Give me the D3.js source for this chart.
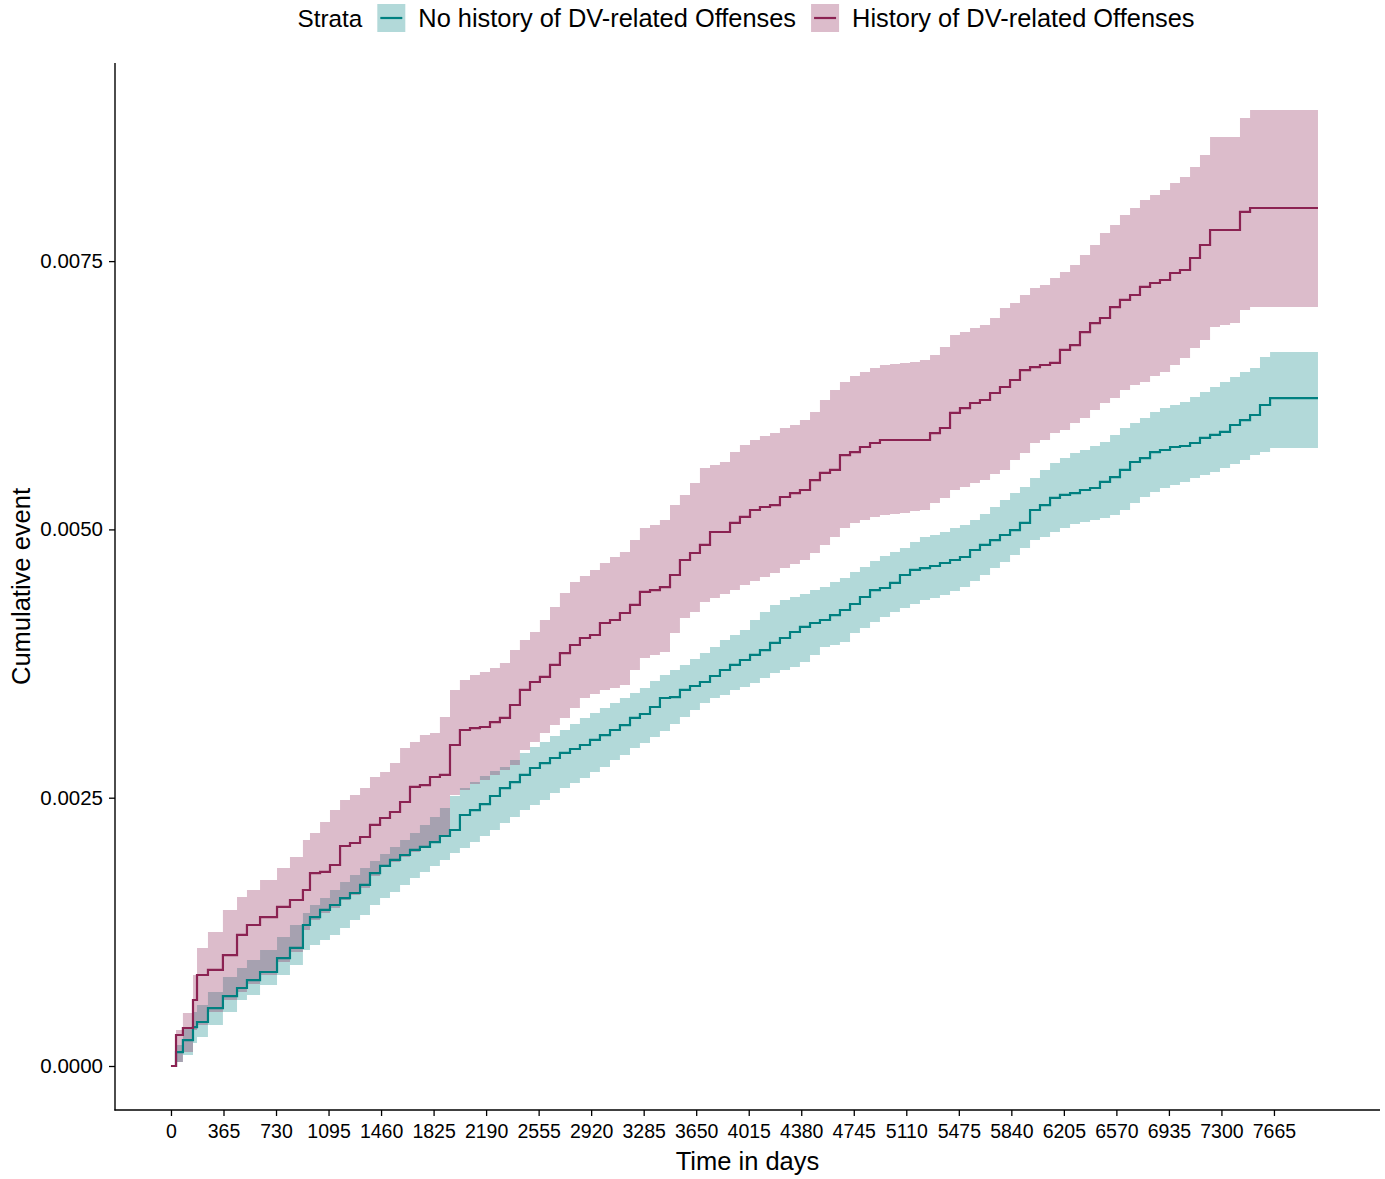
<!DOCTYPE html>
<html>
<head>
<meta charset="utf-8">
<script src="https://cdn.jsdelivr.net/npm/d3@7"></script>
<style>
  body { margin: 0; background: #fff; }
  svg text { font-family: "Liberation Sans", Arial, sans-serif; fill: #000; }
</style>
</head>
<body>
<svg id="chart"></svg>
<script>
// time points (days) shared by both strata
const days = [0, 35, 83, 153, 181, 257, 361, 459, 528, 619, 737, 827, 917,
  966, 1036, 1105, 1175, 1244, 1314, 1383, 1453, 1522, 1592,
  1661, 1730, 1800, 1869, 1939, 2008, 2078, 2147, 2217, 2286,
  2356, 2425, 2495, 2564, 2634, 2703, 2773, 2842, 2912, 2981,
  3051, 3120, 3190, 3259, 3329, 3398, 3468, 3537, 3607, 3676,
  3746, 3815, 3885, 3954, 4024, 4093, 4163, 4232, 4302, 4371,
  4441, 4510, 4580, 4649, 4719, 4788, 4858, 4927, 4997, 5066,
  5136, 5205, 5275, 5344, 5414, 5483, 5553, 5622, 5692, 5761,
  5831, 5900, 5970, 6039, 6109, 6178, 6248, 6317, 6387, 6456,
  6526, 6595, 6665, 6734, 6804, 6873, 6943, 7012, 7082, 7151,
  7221, 7290, 7360, 7429, 7499, 7568, 7638, 7707, 7777,
  7971];

// cumulative event, in units of 1e-4
const noHistEst = [0, 1.30, 2.42, 3.63, 4.10, 5.40, 6.52, 7.27, 8.01, 8.76, 10.06, 11.00, 13.14,
  13.88, 14.54, 15.00, 15.65, 16.12, 16.87, 17.98, 18.64, 19.20, 19.66,
  20.13, 20.41, 20.87, 21.43, 21.99, 23.39, 23.85, 24.41, 25.16, 25.90,
  26.46, 27.12, 27.77, 28.23, 28.70, 29.17, 29.54, 29.91, 30.38, 30.84,
  31.31, 31.77, 32.43, 32.80, 33.45, 34.29, 34.38, 35.04, 35.41, 35.78,
  36.34, 36.90, 37.37, 37.83, 38.30, 38.76, 39.42, 39.88, 40.44, 40.91,
  41.28, 41.56, 42.02, 42.49, 43.05, 43.70, 44.35, 44.54, 45.01, 45.75,
  46.22, 46.40, 46.59, 46.87, 47.15, 47.43, 48.08, 48.55, 49.01, 49.48,
  49.94, 50.60, 51.81, 52.27, 52.93, 53.21, 53.39, 53.67, 53.86, 54.42,
  54.88, 55.54, 56.28, 56.65, 57.21, 57.40, 57.68, 57.77, 58.05, 58.52,
  58.80, 59.08, 59.73, 60.19, 60.66, 61.59, 62.24, 62.24, 62.24,
  62.24];
const noHistLower = [0, 0.37, 1.02, 2.14, 2.70, 3.82, 5.03, 6.15, 6.62, 7.55, 8.48, 9.41, 10.81,
  11.27, 11.74, 12.21, 12.86, 13.60, 14.07, 15.00, 15.65, 16.21, 16.87,
  17.52, 18.08, 18.64, 19.20, 19.85, 20.31, 20.87, 21.43, 21.99, 22.64,
  23.20, 23.85, 24.32, 24.79, 25.44, 25.90, 26.37, 26.84, 27.39, 27.86,
  28.51, 28.98, 29.63, 30.10, 30.66, 31.22, 31.87, 32.52, 33.17, 33.82,
  34.29, 34.57, 35.04, 35.32, 35.69, 36.15, 36.62, 36.90, 37.18, 37.64,
  38.30, 39.04, 39.23, 39.51, 40.35, 40.81, 41.37, 41.84, 42.30, 42.68,
  43.05, 43.42, 43.61, 43.89, 44.26, 44.63, 45.19, 45.75, 46.40, 46.96,
  47.61, 48.27, 49.01, 49.29, 49.76, 50.13, 50.50, 50.69, 50.88, 51.06,
  51.34, 51.81, 52.46, 53.02, 53.49, 53.86, 54.14, 54.42, 54.79, 55.07,
  55.35, 55.72, 56.09, 56.47, 56.93, 57.21, 57.59, 57.59, 57.59,
  57.59];
const noHistUpper = [0, 1.96, 3.54, 5.03, 5.68, 6.90, 8.29, 9.13, 9.88, 10.81, 12.02, 13.14, 14.26,
  15.00, 15.65, 16.40, 17.15, 17.80, 18.45, 19.10, 19.75, 20.41, 21.06,
  21.71, 22.46, 23.20, 24.04, 25.16, 25.90, 26.46, 27.02, 27.49, 27.86,
  28.51, 29.17, 29.72, 30.19, 30.75, 31.31, 31.87, 32.43, 32.89, 33.36,
  33.82, 34.29, 34.76, 35.22, 35.87, 36.43, 36.90, 37.37, 37.92, 38.48,
  39.04, 39.69, 40.16, 40.63, 41.56, 42.30, 42.96, 43.42, 43.70, 43.98,
  44.35, 44.63, 45.10, 45.47, 46.03, 46.50, 47.06, 47.52, 47.89, 48.27,
  48.83, 49.29, 49.48, 49.76, 50.13, 50.41, 50.88, 51.44, 52.09, 52.74,
  53.39, 53.95, 54.79, 55.54, 56.19, 56.65, 57.12, 57.40, 57.77, 58.14,
  58.80, 59.45, 59.91, 60.38, 60.94, 61.31, 61.59, 61.87, 62.34, 62.80,
  63.27, 63.74, 64.20, 64.67, 65.04, 66.07, 66.53, 66.53, 66.53,
  66.53];

const histEst = [0, 2.89, 3.54, 6.15, 8.48, 8.95, 10.34, 12.21, 13.14, 13.88, 14.82, 15.47, 16.40,
  17.98, 18.08, 18.73, 20.50, 20.78, 21.34, 22.46, 23.11, 23.67, 24.60,
  26.00, 26.18, 26.93, 27.12, 29.91, 31.31, 31.49, 31.59, 32.05, 32.43,
  33.64, 35.04, 35.78, 36.25, 37.37, 38.48, 39.23, 39.88, 40.16, 41.28,
  41.56, 42.21, 42.96, 44.17, 44.35, 44.63, 45.75, 47.15, 47.80, 48.55,
  49.76, 49.76, 50.60, 51.16, 51.81, 52.09, 52.27, 53.02, 53.39, 53.67,
  54.60, 55.26, 55.54, 56.93, 57.21, 57.68, 58.05, 58.33, 58.33, 58.33,
  58.33, 58.33, 58.98, 59.45, 60.85, 61.31, 61.78, 62.06, 62.71, 63.27,
  63.92, 64.85, 65.13, 65.32, 65.51, 66.72, 67.18, 68.39, 69.23, 69.70,
  70.72, 71.38, 71.84, 72.59, 72.96, 73.24, 73.89, 74.17, 75.29, 76.50,
  77.90, 77.90, 77.90, 79.58, 79.95, 79.95, 79.95, 79.95, 79.95,
  79.95];
const histLower = [0, 0.37, 1.30, 3.35, 3.82, 5.03, 6.15, 6.90, 7.64, 8.48, 9.69, 10.62, 12.67,
  13.60, 14.26, 14.72, 15.47, 15.93, 16.59, 17.70, 18.64, 19.01, 19.47,
  19.94, 20.31, 20.87, 21.43, 25.25, 25.72, 26.28, 26.65, 27.12, 27.58,
  28.05, 29.44, 30.19, 31.03, 31.77, 32.43, 33.36, 34.29, 34.66, 35.04,
  35.22, 35.50, 36.90, 38.02, 38.30, 38.58, 40.35, 41.74, 42.30, 43.24,
  43.61, 43.98, 44.35, 44.82, 45.19, 45.57, 45.94, 46.40, 46.78, 47.15,
  47.80, 48.55, 49.29, 50.13, 50.60, 50.88, 51.16, 51.34, 51.44, 51.53,
  51.71, 51.81, 52.46, 52.93, 53.67, 53.95, 54.32, 54.60, 55.16, 55.54,
  56.47, 57.12, 58.05, 58.33, 58.98, 59.26, 59.91, 60.38, 61.13, 61.78,
  62.24, 62.99, 63.46, 63.74, 64.29, 64.67, 65.32, 65.97, 66.90, 67.65,
  68.86, 69.05, 69.23, 70.44, 70.72, 70.72, 70.72, 70.72, 70.72,
  70.72];
const histUpper = [0, 3.35, 4.94, 8.48, 11.00, 12.49, 14.54, 15.75, 16.40, 17.33, 18.45, 19.47, 21.06,
  21.71, 22.74, 23.85, 24.79, 25.25, 25.90, 26.93, 27.39, 28.23, 29.63,
  30.19, 30.84, 31.03, 32.52, 35.04, 35.97, 36.43, 36.71, 37.09, 37.55,
  38.76, 39.69, 40.44, 41.56, 42.77, 44.07, 45.10, 45.66, 46.22, 46.87,
  47.43, 47.89, 49.01, 50.13, 50.41, 50.88, 52.27, 53.21, 54.32, 55.72,
  56.00, 56.28, 57.21, 57.86, 58.33, 58.70, 58.98, 59.45, 59.73, 60.19,
  60.94, 62.06, 62.99, 63.74, 64.29, 64.67, 65.04, 65.32, 65.41, 65.51,
  65.60, 65.78, 66.25, 67.00, 68.11, 68.39, 68.77, 69.05, 69.70, 70.63,
  71.10, 71.84, 72.49, 72.77, 73.43, 73.98, 74.64, 75.57, 76.50, 77.62,
  78.36, 79.30, 79.95, 80.69, 81.16, 81.63, 82.28, 82.84, 83.77, 84.89,
  86.56, 86.56, 86.56, 88.33, 89.08, 89.08, 89.08, 89.08, 89.08,
  89.08];

const strataNames = ['No history of DV-related Offenses', 'History of DV-related Offenses'];
const strataColors = ['#008080', '#8B2252'];
const xTicks = d3.range(0, 7666, 365);
const yTicks = [0, 0.0025, 0.005, 0.0075];

const width = 1385, height = 1179;
const plot = { left: 115, right: 1380, top: 63, bottom: 1110 };

const svg = d3.select('#chart').attr('width', width).attr('height', height);

const x = d3.scaleLinear().domain([-389, 8402]).range([plot.left, plot.right]);
const y = d3.scaleLinear().domain([-0.00041, 0.009346]).range([plot.bottom, plot.top]);

const build = (est, lo, hi) => days.map((t, i) => ({ t, est: est[i] / 1e4, lo: lo[i] / 1e4, hi: hi[i] / 1e4 }));
const series = [
  build(noHistEst, noHistLower, noHistUpper),
  build(histEst, histLower, histUpper)
];

const area = d3.area().curve(d3.curveStepAfter)
  .x(d => x(d.t)).y0(d => y(d.lo)).y1(d => y(d.hi));
const line = d3.line().curve(d3.curveStepAfter)
  .x(d => x(d.t)).y(d => y(d.est));

// confidence ribbons
svg.append('g').selectAll('path').data(series).join('path')
  .attr('d', area)
  .attr('fill', (d, i) => strataColors[i])
  .attr('fill-opacity', 0.3);

// cumulative event curves
svg.append('g').selectAll('path').data(series).join('path')
  .attr('d', line)
  .attr('fill', 'none')
  .attr('stroke', (d, i) => strataColors[i])
  .attr('stroke-width', 2.2);

// axes
const xAxis = svg.append('g')
  .attr('transform', `translate(0,${plot.bottom})`)
  .call(d3.axisBottom(x).tickValues(xTicks).tickFormat(d3.format('d')).tickSize(6).tickSizeOuter(0).tickPadding(8));
xAxis.select('.domain').remove();
xAxis.selectAll('line').attr('stroke', '#000').attr('stroke-width', 1.3);
xAxis.selectAll('text').style('font-size', '19.5px').attr('fill', '#000');

const yAxis = svg.append('g')
  .attr('transform', `translate(${plot.left},0)`)
  .call(d3.axisLeft(y).tickValues(yTicks).tickFormat(d3.format('.4f')).tickSize(6).tickSizeOuter(0).tickPadding(6));
yAxis.select('.domain').remove();
yAxis.selectAll('line').attr('stroke', '#000').attr('stroke-width', 1.3);
yAxis.selectAll('text').style('font-size', '20.5px').attr('fill', '#000');

svg.append('line')
  .attr('x1', plot.left).attr('x2', plot.left)
  .attr('y1', plot.top).attr('y2', plot.bottom + 0.6)
  .attr('stroke', '#000').attr('stroke-width', 1.4);
svg.append('line')
  .attr('x1', plot.left - 0.6).attr('x2', plot.right)
  .attr('y1', plot.bottom).attr('y2', plot.bottom)
  .attr('stroke', '#000').attr('stroke-width', 1.4);

// axis titles
svg.append('text')
  .attr('x', (plot.left + plot.right) / 2).attr('y', 1170)
  .attr('text-anchor', 'middle')
  .style('font-size', '25.5px')
  .text('Time in days');

svg.append('text')
  .attr('transform', `translate(30,${(plot.top + plot.bottom) / 2}) rotate(-90)`)
  .attr('text-anchor', 'middle')
  .style('font-size', '25.5px')
  .text('Cumulative event');

// legend
const legend = svg.append('g');
const keySize = 28, legendY = 4;
let cx = 0;
const title = legend.append('text').attr('x', cx).attr('y', legendY + 23)
  .style('font-size', '24.3px').text('Strata');
cx += title.node().getComputedTextLength() + 15;
strataNames.forEach((name, i) => {
  legend.append('rect')
    .attr('x', cx).attr('y', legendY).attr('width', keySize).attr('height', keySize)
    .attr('fill', strataColors[i]).attr('fill-opacity', 0.3);
  legend.append('line')
    .attr('x1', cx + 3).attr('x2', cx + keySize - 3)
    .attr('y1', legendY + keySize / 2).attr('y2', legendY + keySize / 2)
    .attr('stroke', strataColors[i]).attr('stroke-width', 2.2);
  cx += keySize + 13;
  const t = legend.append('text').attr('x', cx).attr('y', legendY + 23)
    .style('font-size', '25.4px').text(name);
  cx += t.node().getComputedTextLength() + (i === 0 ? 15 : 0);
});
legend.attr('transform', `translate(${746 - cx / 2},0)`);
</script>
</body>
</html>
